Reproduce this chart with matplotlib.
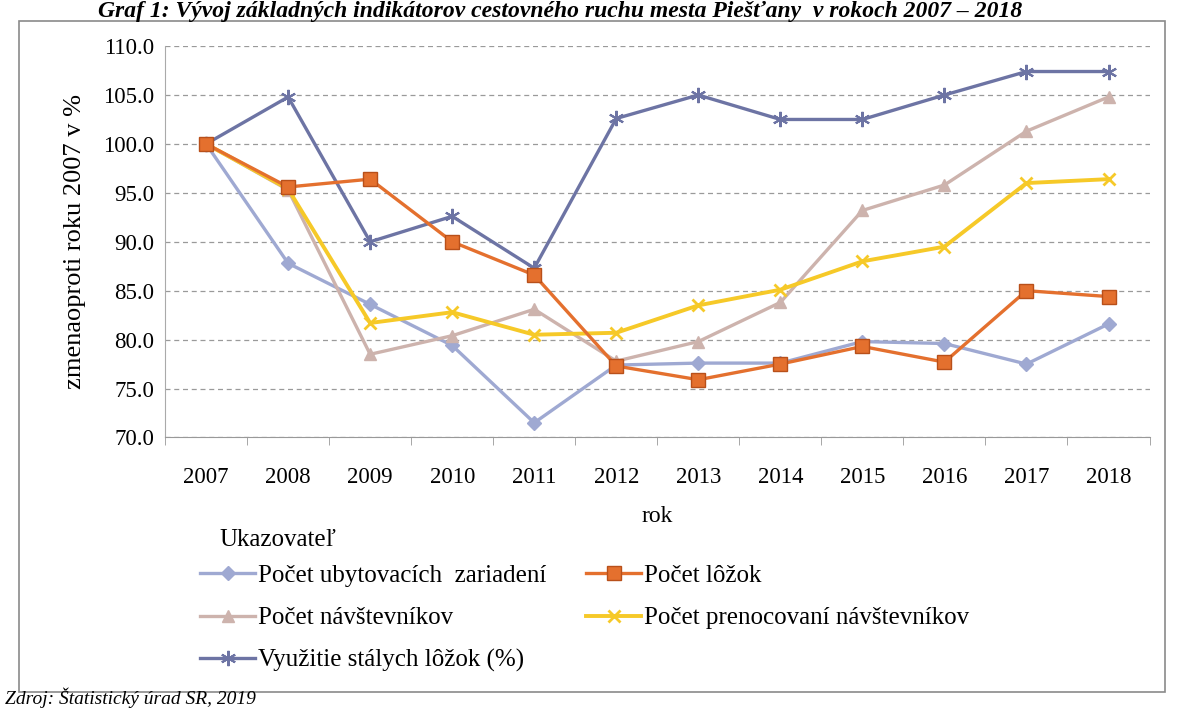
import matplotlib.pyplot as plt
from matplotlib.patches import Rectangle

plt.rcParams['font.family'] = ['Liberation Serif', 'DejaVu Serif']

# roky a hodnoty (index, rok 2007 = 100)
roky = ['2007', '2008', '2009', '2010', '2011', '2012',
        '2013', '2014', '2015', '2016', '2017', '2018']
ubytovacie = [100.0, 87.8, 83.6, 79.4, 71.5, 77.4, 77.6, 77.6, 79.8, 79.6, 77.5, 81.6]
lozka = [100.0, 95.6, 96.4, 90.0, 86.6, 77.3, 75.9, 77.5, 79.3, 77.7, 85.0, 84.4]
navstevnici = [100.0, 95.3, 78.5, 80.4, 83.1, 77.8, 79.8, 83.8, 93.2, 95.8, 101.3, 104.8]
prenocovania = [100.0, 95.4, 81.7, 82.8, 80.5, 80.7, 83.5, 85.1, 88.0, 89.5, 96.0, 96.4]
vyuzitie = [100.0, 104.8, 90.0, 92.6, 87.3, 102.6, 105.0, 102.5, 102.5, 105.0, 107.4, 107.4]

y_ticks = [70, 75, 80, 85, 90, 95, 100, 105, 110]

fig = plt.figure(figsize=(11.79, 7.09), dpi=100)
ax = fig.add_axes([0.140, 0.383, 0.835, 0.552])

x = list(range(len(roky)))

l_ub, = ax.plot(x, ubytovacie, color='#9fa9d2', lw=2.4, marker='D', ms=7,
                label='Počet ubytovacích  zariadení', zorder=3)
l_lo, = ax.plot(x, lozka, color='#e4702e', lw=2.4, marker='s', ms=10,
                mec='#b8501a', label='Počet lôžok', zorder=4)
l_na, = ax.plot(x, navstevnici, color='#cdb3ad', lw=2.4, marker='^', ms=9,
                label='Počet návštevníkov', zorder=3)
l_pr, = ax.plot(x, prenocovania, color='#f6c928', lw=2.8, marker='x', ms=8, mew=2,
                label='Počet prenocovaní návštevníkov', zorder=3)
l_vy, = ax.plot(x, vyuzitie, color='#6d74a4', lw=2.4, marker=(6, 2, 0), ms=11, mew=1.5,
                label='Využitie stálych lôžok (%)', zorder=3)

ax.set_xlim(-0.5, len(roky) - 0.5)
ax.set_ylim(70, 110)
ax.set_yticks(y_ticks)
ax.set_yticklabels([f'{v:.1f}' for v in y_ticks])
ax.set_xticks(x)
ax.set_xticklabels(roky)
ax.set_xticks([i - 0.5 for i in range(len(roky) + 1)], minor=True)
ax.tick_params(axis='x', which='major', length=0, pad=21, labelsize=16.5)
ax.tick_params(axis='x', which='minor', length=6, color='#999999')
ax.tick_params(axis='y', length=0, pad=8, labelsize=16.5)

ax.grid(axis='y', color='#9a9a9a', linestyle=(0, (4, 3)), lw=0.9)
ax.set_axisbelow(True)
for side in ['top', 'right']:
    ax.spines[side].set_visible(False)
ax.spines['left'].set_color('#aaaaaa')
ax.spines['bottom'].set_color('#999999')

ax.set_xlabel('rok', fontsize=17, labelpad=13)
ax.set_ylabel('zmenaoproti roku 2007 v %', fontsize=19, labelpad=12)

# poradie: 1. stĺpec, potom 2. stĺpec
handles = [l_ub, l_na, l_vy, l_lo, l_pr]
fig.legend(handles, [h.get_label() for h in handles], loc='upper left',
           bbox_to_anchor=(0.170, 0.204), ncol=2, frameon=False, fontsize=18,
           handlelength=2.2, handletextpad=0.1, columnspacing=1.6,
           labelspacing=0.8, borderpad=0, borderaxespad=0)
fig.text(0.186, 0.238, 'Ukazovateľ', fontsize=18, ha='left', va='center')

# rámček grafu
fig.patches.append(Rectangle((0.016, 0.024), 0.972, 0.946, transform=fig.transFigure,
                             fill=False, edgecolor='#8a8a8a', lw=1.2))

fig.text(0.475, 0.984, 'Graf 1: Vývoj základných indikátorov cestovného ruchu mesta Piešťany  v rokoch 2007 – 2018',
         ha='center', va='center', fontsize=17, style='italic', weight='bold')
fig.text(0.004, 0.002, 'Zdroj: Štatistický úrad SR, 2019', ha='left', va='bottom',
         fontsize=14, style='italic')

fig.savefig('out.png', dpi=100)
